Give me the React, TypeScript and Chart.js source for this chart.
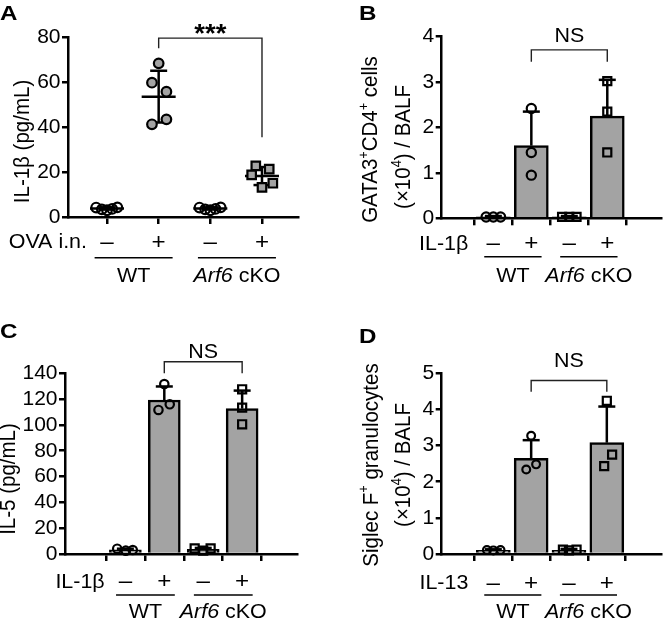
import React, { useEffect, useRef } from "react";
import { Chart, registerables } from "chart.js";

Chart.register(...registerables);

const FONT = "'Liberation Sans', Arial, Helvetica, sans-serif";
const FS = 19.5;
const TFS = 20.5; // rotated axis-title size
const SX = 1.1; // horizontal stretch of the reference lettering
const GRAY = "#a3a3a3";
const LW = 2.5;

// ---------- shared categories ----------
const GROUP_POS = [0, 1, 2, 3];
const SIGNS = ["–", "+", "–", "+"];
const GENOTYPE_WT = "WT";
const GENOTYPE_KO_ITALIC = "Arf6";
const GENOTYPE_KO_REST = " cKO";

// ---------- Panel A : IL-1β (pg/mL), OVA i.n. ----------
const A_Y_TICKS = [0, 20, 40, 60, 80];
const A_WT_NEG = [4.2, 3.4, 3.0, 3.6, 4.3];
const A_WT_NEG_JIT = [-0.21, -0.1, 0, 0.1, 0.2];
const A_WT_POS = [68.3, 59.7, 55.7, 43.4, 41.2];
const A_WT_POS_JIT = [0, -0.13, 0.15, 0.15, -0.13];
const A_KO_NEG = [4.2, 3.4, 3.0, 3.6, 4.3];
const A_KO_NEG_JIT = [-0.21, -0.1, 0, 0.1, 0.2];
const A_KO_POS = [22.7, 21.3, 18.7, 15.0, 13.2];
const A_KO_POS_JIT = [-0.12, 0.14, -0.2, 0.21, 0];
const A_MEAN = [3.8, 53.5, 3.8, 18.2];
const A_SD = [0.5, 11.5, 0.5, 4.0];
const A_BRACKET = [79.5, 75, 35.5]; // top, left end, right end

// ---------- Panel B : GATA3+CD4+ cells ----------
const B_Y_TICKS = [0, 1, 2, 3, 4];
const B_WT_NEG = [0.03, 0.03, 0.03];
const B_WT_NEG_JIT = [-0.19, 0, 0.19];
const B_WT_POS = [2.42, 1.45, 0.95];
const B_WT_POS_JIT = [0, 0, 0];
const B_KO_NEG = [0.03, 0.03, 0.03];
const B_KO_NEG_JIT = [-0.19, 0, 0.19];
const B_KO_POS = [3.02, 2.35, 1.45];
const B_KO_POS_JIT = [0, 0, 0];
const B_MEAN = [0.03, 1.6, 0.03, 2.25];
const B_SD = [0.02, 0.75, 0.02, 0.8];
const B_BRACKET = [3.71, 3.45, 3.45];

// ---------- Panel C : IL-5 (pg/mL) ----------
const C_Y_TICKS = [0, 20, 40, 60, 80, 100, 120, 140];
const C_WT_NEG = [4.1, 2.6, 3.1];
const C_WT_NEG_JIT = [-0.21, 0.01, 0.19];
const C_WT_POS = [131.7, 111.6, 116.0];
const C_WT_POS_JIT = [0, -0.15, 0.14];
const C_KO_NEG = [4.3, 2.6, 4.3];
const C_KO_NEG_JIT = [-0.22, 0, 0.19];
const C_KO_POS = [127.6, 113.4, 100.5];
const C_KO_POS_JIT = [0, 0, 0];
const C_MEAN = [3.3, 119.3, 3.7, 112.6];
const C_SD = [0.8, 10.5, 1.0, 14.0];
const C_BRACKET = [149, 140, 140];

// ---------- Panel D : Siglec F+ granulocytes ----------
const D_Y_TICKS = [0, 1, 2, 3, 4, 5];
const D_WT_NEG = [0.11, 0.1, 0.11];
const D_WT_NEG_JIT = [-0.17, 0, 0.19];
const D_WT_POS = [3.27, 2.34, 2.48];
const D_WT_POS_JIT = [0, -0.13, 0.13];
const D_KO_NEG = [0.12, 0.1, 0.12];
const D_KO_NEG_JIT = [-0.16, 0, 0.2];
const D_KO_POS = [4.24, 2.75, 2.43];
const D_KO_POS_JIT = [0, 0.14, -0.07];
const D_MEAN = [0.1, 2.65, 0.1, 3.08];
const D_SD = [0.03, 0.5, 0.04, 1.0];
const D_BRACKET = [4.8, 4.49, 4.49];

type Seg = { t: string; sup?: boolean; it?: boolean; b?: boolean };
type Group = { vals: number[]; jit: number[]; shape: string; fill: string; r: number };

const TITLE_A: Seg[][] = [[{ t: "IL-1β (pg/mL)" }]];
const TITLE_B: Seg[][] = [
  [{ t: "GATA3" }, { t: "+", sup: true }, { t: "CD4" }, { t: "+", sup: true }, { t: " cells" }],
  [{ t: "(×10" }, { t: "4", sup: true }, { t: ") / BALF" }],
];
const TITLE_C: Seg[][] = [[{ t: "IL-5 (pg/mL)" }]];
const TITLE_D: Seg[][] = [
  [{ t: "Siglec F" }, { t: "+", sup: true }, { t: " granulocytes" }],
  [{ t: "(×10" }, { t: "4", sup: true }, { t: ") / BALF" }],
];

const OPEN = "rgba(0,0,0,0)";

function mk(vals: number[], jit: number[], shape: string, fill: string, r: number): Group {
  return { vals, jit, shape, fill, r };
}

const PANELS = [
  {
    letter: "A", left: 0, top: 0, w: 335, h: 310,
    area: { l: 68, r: 298, t: 37, b: 217 }, xMin: -0.755, xMax: 3.697,
    yTicks: A_Y_TICKS,
    groups: [
      mk(A_WT_NEG, A_WT_NEG_JIT, "circle", OPEN, 4.8),
      mk(A_WT_POS, A_WT_POS_JIT, "circle", GRAY, 4.8),
      mk(A_KO_NEG, A_KO_NEG_JIT, "circle", OPEN, 4.8),
      mk(A_KO_POS, A_KO_POS_JIT, "rect", GRAY, 6),
    ],
    mean: A_MEAN, sd: A_SD, style: "dot", barW: 0,
    bracket: A_BRACKET, bracketText: "***", bracketFont: `bold 25px ${FONT}`, bracketGap: -4,
    letterPos: [0, 20], titles: [{ segs: TITLE_A[0], bx: 28.5, cy: 141.5 }],
    cond: "OVA i.n.", condGap: 20, rows: [31, 40.7, 65.3],
  },
  {
    letter: "B", left: 335, top: 0, w: 334, h: 310,
    area: { l: 106.7, r: 333, t: 36.7, b: 218.3 }, xMin: -0.638, xMax: 3.695,
    yTicks: B_Y_TICKS,
    groups: [
      mk(B_WT_NEG, B_WT_NEG_JIT, "circle", OPEN, 4.6),
      mk(B_WT_POS, B_WT_POS_JIT, "circle", OPEN, 4.6),
      mk(B_KO_NEG, B_KO_NEG_JIT, "rect", OPEN, 5.7),
      mk(B_KO_POS, B_KO_POS_JIT, "rect", OPEN, 5.7),
    ],
    mean: B_MEAN, sd: B_SD, style: "bar", barW: 34,
    bracket: B_BRACKET, bracketText: "NS", bracketFont: `${FS}px ${FONT}`, bracketGap: 7.7,
    letterPos: [24, 19.5],
    titles: [
      { segs: TITLE_B[0], bx: 42, cy: 139.5 },
      { segs: TITLE_B[1], bx: 75, cy: 147 },
    ],
    cond: "IL-1β", condGap: 25, rows: [31.2, 38.4, 63.4],
  },
  {
    letter: "C", left: 0, top: 310, w: 335, h: 310,
    area: { l: 65, r: 297.7, t: 63.3, b: 244 }, xMin: -0.804, xMax: 3.68,
    yTicks: C_Y_TICKS,
    groups: [
      mk(C_WT_NEG, C_WT_NEG_JIT, "circle", OPEN, 4.2),
      mk(C_WT_POS, C_WT_POS_JIT, "circle", OPEN, 4.2),
      mk(C_KO_NEG, C_KO_NEG_JIT, "rect", OPEN, 5.7),
      mk(C_KO_POS, C_KO_POS_JIT, "rect", OPEN, 5.7),
    ],
    mean: C_MEAN, sd: C_SD, style: "bar", barW: 32,
    bracket: C_BRACKET, bracketText: "NS", bracketFont: `${FS}px ${FONT}`, bracketGap: 3.4,
    letterPos: [0, 28.3],
    titles: [{ segs: TITLE_C[0], bx: 14.5, cy: 169 }],
    cond: "IL-1β", condGap: 20.7, rows: [33.6, 41, 64],
  },
  {
    letter: "D", left: 335, top: 310, w: 334, h: 310,
    area: { l: 106.7, r: 333, t: 63.3, b: 244 }, xMin: -0.64, xMax: 3.71,
    yTicks: D_Y_TICKS,
    groups: [
      mk(D_WT_NEG, D_WT_NEG_JIT, "circle", OPEN, 3.9),
      mk(D_WT_POS, D_WT_POS_JIT, "circle", OPEN, 3.9),
      mk(D_KO_NEG, D_KO_NEG_JIT, "rect", OPEN, 5.7),
      mk(D_KO_POS, D_KO_POS_JIT, "rect", OPEN, 5.7),
    ],
    mean: D_MEAN, sd: D_SD, style: "bar", barW: 34,
    bracket: D_BRACKET, bracketText: "NS", bracketFont: `${FS}px ${FONT}`, bracketGap: 14,
    letterPos: [24, 33.3],
    titles: [
      { segs: TITLE_D[0], bx: 42.5, cy: 155 },
      { segs: TITLE_D[1], bx: 75, cy: 155 },
    ],
    cond: "IL-13", condGap: 25, rows: [35, 41, 64],
  },
];

function segFont(s: Seg, size: number) {
  const sz = s.sup ? size * 0.62 : size;
  return `${s.it ? "italic " : ""}${s.b ? "bold " : ""}${sz}px ${FONT}`;
}
function measureRich(ctx: CanvasRenderingContext2D, segs: Seg[], size: number) {
  let w = 0;
  for (const s of segs) {
    ctx.font = segFont(s, size);
    w += ctx.measureText(s.t).width;
  }
  return w;
}
// draws mixed-style text; sx stretches it horizontally (in the text's own frame)
function drawRich(ctx: CanvasRenderingContext2D, segs: Seg[], x: number, y: number, size: number, align: string, sx = 1) {
  const w = measureRich(ctx, segs, size);
  ctx.save();
  ctx.translate(x, y);
  ctx.scale(sx, 1);
  let cx = align === "center" ? -w / 2 : align === "right" ? -w : 0;
  ctx.textAlign = "left";
  ctx.textBaseline = "alphabetic";
  for (const s of segs) {
    ctx.font = segFont(s, size);
    ctx.fillText(s.t, cx, s.sup ? -size * 0.4 : 0);
    cx += ctx.measureText(s.t).width;
  }
  ctx.restore();
}
function line(ctx: CanvasRenderingContext2D, x1: number, y1: number, x2: number, y2: number) {
  ctx.beginPath();
  ctx.moveTo(x1, y1);
  ctx.lineTo(x2, y2);
  ctx.stroke();
}

function makePlugin(p: any) {
  const drawErrors = (chart: any) => {
    const ctx: CanvasRenderingContext2D = chart.ctx;
    const xs = chart.scales.x, ys = chart.scales.y;
    ctx.save();
    ctx.strokeStyle = "#000";
    ctx.lineWidth = LW;
    GROUP_POS.forEach((g, i) => {
      const px = xs.getPixelForValue(g);
      const pm = ys.getPixelForValue(p.mean[i]);
      const pt = ys.getPixelForValue(p.mean[i] + p.sd[i]);
      if (p.style === "dot") {
        const pb = ys.getPixelForValue(p.mean[i] - p.sd[i]);
        line(ctx, px, pb, px, pt);
        line(ctx, px - 8.5, pt, px + 8.5, pt);
        line(ctx, px - 8.5, pb, px + 8.5, pb);
        line(ctx, px - 17, pm, px + 17, pm);
      } else {
        line(ctx, px, pm, px, pt);
        line(ctx, px - 8.5, pt, px + 8.5, pt);
      }
    });
    ctx.restore();
  };
  return {
    id: "panelDecor" + p.letter,
    beforeDatasetsDraw(chart: any) {
      if (p.style === "dot") drawErrors(chart);
    },
    afterDatasetsDraw(chart: any) {
      if (p.style !== "dot") drawErrors(chart);
    },
    afterDraw(chart: any) {
      const ctx: CanvasRenderingContext2D = chart.ctx;
      const xs = chart.scales.x, ys = chart.scales.y;
      const bottom = chart.chartArea.bottom;
      ctx.save();
      ctx.fillStyle = "#000";
      ctx.strokeStyle = "#000";
      // panel letter
      drawRich(ctx, [{ t: p.letter, b: true }], p.letterPos[0], p.letterPos[1], 21, "left", 1.15);
      // y titles (rotated)
      for (const t of p.titles) {
        ctx.save();
        ctx.translate(t.bx, t.cy);
        ctx.rotate(-Math.PI / 2);
        ctx.scale(1, SX);
        drawRich(ctx, t.segs, 0, 0, TFS, "center");
        ctx.restore();
      }
      // condition row
      const x0 = xs.getPixelForValue(GROUP_POS[0]);
      drawRich(ctx, [{ t: p.cond }], x0 - p.condGap, bottom + p.rows[0], FS, "right", SX);
      GROUP_POS.forEach((g, i) => {
        drawRich(ctx, [{ t: SIGNS[i] }], xs.getPixelForValue(g), bottom + p.rows[0] + 0.5, 22, "center", SX);
      });
      // genotype group lines and labels
      ctx.lineWidth = 1.6;
      const gl = bottom + p.rows[1];
      const pairs = [[0, 1], [2, 3]];
      pairs.forEach(([a, b], k) => {
        const xa = xs.getPixelForValue(GROUP_POS[a] - 0.24);
        const xb = xs.getPixelForValue(GROUP_POS[b] + 0.27);
        line(ctx, xa, gl, xb, gl);
        const mid = (xa + xb) / 2;
        const segs: Seg[] = k === 0 ? [{ t: GENOTYPE_WT }] : [{ t: GENOTYPE_KO_ITALIC, it: true }, { t: GENOTYPE_KO_REST }];
        drawRich(ctx, segs, mid, bottom + p.rows[2], FS, "center", SX);
      });
      // significance bracket
      const bx1 = xs.getPixelForValue(GROUP_POS[1]);
      const bx2 = xs.getPixelForValue(GROUP_POS[3]);
      const by = ys.getPixelForValue(p.bracket[0]);
      ctx.lineWidth = 1.4;
      ctx.strokeStyle = "#222";
      ctx.beginPath();
      ctx.moveTo(bx1, ys.getPixelForValue(p.bracket[1]));
      ctx.lineTo(bx1, by);
      ctx.lineTo(bx2, by);
      ctx.lineTo(bx2, ys.getPixelForValue(p.bracket[2]));
      ctx.stroke();
      ctx.save();
      ctx.translate((bx1 + bx2) / 2, by - p.bracketGap);
      ctx.scale(SX, 1);
      ctx.font = p.bracketFont;
      ctx.textAlign = "center";
      ctx.textBaseline = "alphabetic";
      ctx.fillText(p.bracketText, 0, 0);
      ctx.restore();
      ctx.restore();
    },
  };
}

function Panel({ p }: { p: any }) {
  const ref = useRef<HTMLCanvasElement | null>(null);
  useEffect(() => {
    if (!ref.current) return;
    const datasets: any[] = [];
    p.groups.forEach((g: Group, gi: number) => {
      datasets.push({
        type: "scatter",
        order: 1,
        data: g.vals.map((v, k) => ({ x: GROUP_POS[gi] + g.jit[k], y: v })),
        showLine: false,
        pointStyle: g.shape,
        pointRadius: g.r,
        pointHoverRadius: g.r,
        pointBackgroundColor: g.fill,
        pointBorderColor: "#000",
        pointBorderWidth: 2.2,
        pointHoverBorderWidth: 2.2,
        clip: false,
      });
    });
    if (p.style === "bar") {
      datasets.push({
        type: "bar",
        order: 2,
        data: GROUP_POS.map((x, i) => ({ x, y: p.mean[i] })),
        backgroundColor: GRAY,
        borderColor: "#000",
        borderWidth: LW,
        barThickness: p.barW,
        borderSkipped: "start",
      });
    }
    const gridOpts = (len: number) => ({
      display: true,
      drawOnChartArea: false,
      drawTicks: true,
      tickLength: len,
      color: "#000",
      lineWidth: LW,
    });
    const yTicks: number[] = p.yTicks;
    const chart = new Chart(ref.current, {
      type: "scatter",
      data: { datasets },
      options: {
        responsive: false,
        animation: false,
        devicePixelRatio: 1,
        events: [],
        layout: { padding: { left: 0, top: p.area.t, right: p.w - p.area.r, bottom: 0 } },
        plugins: { legend: { display: false }, tooltip: { enabled: false } },
        scales: {
          x: {
            type: "linear",
            min: p.xMin,
            max: p.xMax,
            afterFit: (s: any) => { s.height = p.h - p.area.b; },
            afterBuildTicks: (s: any) => { s.ticks = GROUP_POS.map((v) => ({ value: v })); },
            ticks: { display: false },
            grid: gridOpts(7),
            border: { display: true, color: "#000", width: LW },
          },
          y: {
            type: "linear",
            min: 0,
            max: yTicks[yTicks.length - 1],
            afterFit: (s: any) => { s.width = p.area.l; },
            afterBuildTicks: (s: any) => { s.ticks = yTicks.map((v) => ({ value: v })); },
            ticks: {
              autoSkip: false,
              color: "#000",
              padding: 1.5,
              font: { family: FONT, size: 21 },
            },
            grid: gridOpts(6),
            border: { display: true, color: "#000", width: LW },
          },
        },
      } as any,
      plugins: [makePlugin(p)],
    });
    return () => chart.destroy();
  }, [p]);
  return (
    <canvas
      ref={ref}
      width={p.w}
      height={p.h}
      style={{ position: "absolute", left: p.left, top: p.top, width: p.w, height: p.h }}
    />
  );
}

export default function App() {
  return (
    <div style={{ position: "fixed", left: 0, top: 0, width: 669, height: 620, background: "#fff", overflow: "hidden" }}>
      {PANELS.map((p) => (
        <Panel key={p.letter} p={p} />
      ))}
    </div>
  );
}
